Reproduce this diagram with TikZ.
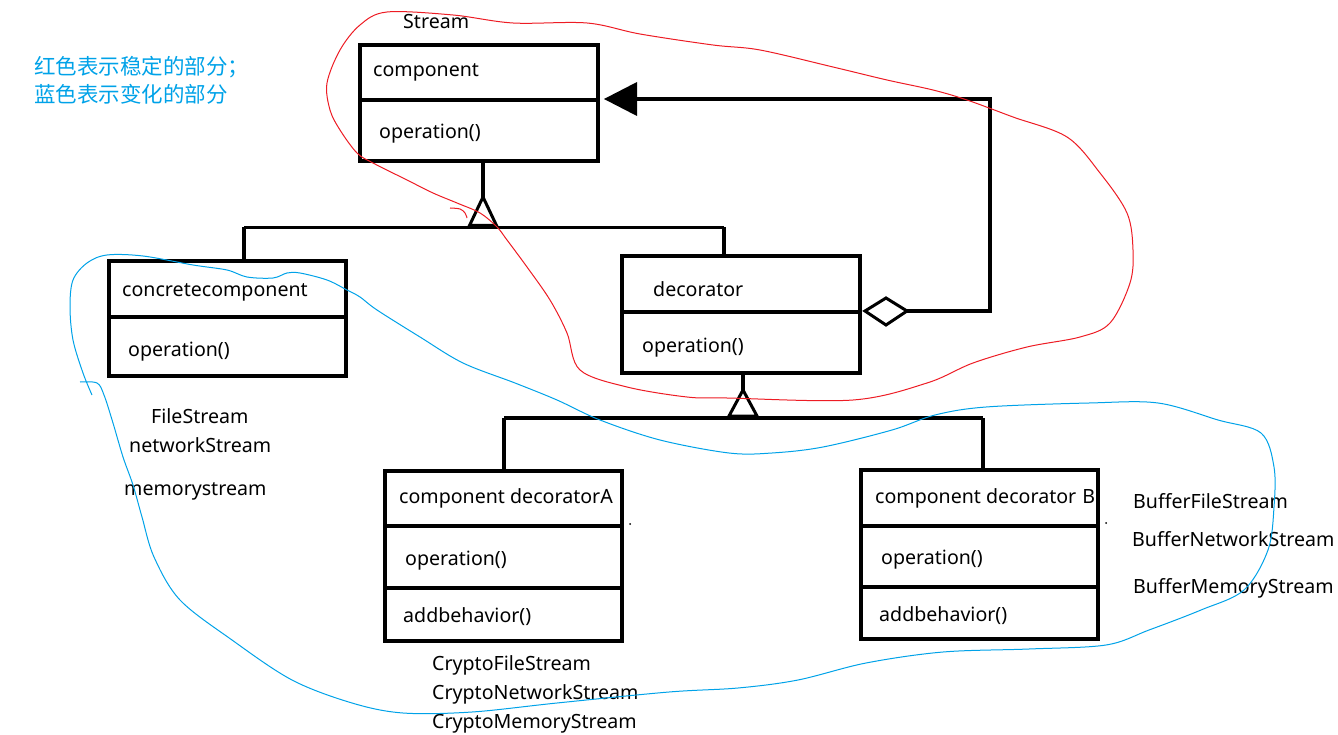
\documentclass[tikz,border=0pt]{standalone}
\usepackage{fontspec}
\setmainfont{Noto Sans}
\newfontfamily\cjk{Noto Sans CJK SC}
\definecolor{pred}{HTML}{ED1C24}
\definecolor{pblue}{HTML}{00A2E8}
\begin{document}
\begin{tikzpicture}[x=1pt,y=-1pt,
  box/.style={draw, line width=4pt, inner sep=0pt, outer sep=0pt},
  divl/.style={line width=4pt},
  conn/.style={line width=3.5pt},
  tri/.style={line width=3pt, line join=miter, fill=white},
  lbl/.style={anchor=base west, inner sep=0pt, font=\fontsize{19.6}{24}\selectfont},
  note/.style={anchor=base west, inner sep=0pt, text=pblue, font=\cjk\fontsize{21.5}{26}\selectfont},
  redline/.style={draw=pred, line width=1pt},
  blueline/.style={draw=pblue, line width=1pt}]
\useasboundingbox (0,0) rectangle (1338,735);

% ---------- boxes ----------
\node[box, minimum width=238pt, minimum height=116.5pt] (comp) at (479,103.25) {};
\node[box, minimum width=237pt, minimum height=114.5pt] (conc) at (227.5,318.75) {};
\node[box, minimum width=238pt, minimum height=117pt] (dec) at (741,314.5) {};
\node[box, minimum width=237.5pt, minimum height=170pt] (decA) at (503.25,556) {};
\node[box, minimum width=237.5pt, minimum height=169.5pt] (decB) at (979.25,554.25) {};

\draw[divl] (comp.west |- 0,100) -- (comp.east |- 0,100);
\draw[divl] (conc.west |- 0,316.5) -- (conc.east |- 0,316.5);
\draw[divl] (dec.west |- 0,312) -- (dec.east |- 0,312);
\draw[divl] (decA.west |- 0,525.5) -- (decA.east |- 0,525.5);
\draw[divl] (decA.west |- 0,587.5) -- (decA.east |- 0,587.5);
\draw[divl] (decB.west |- 0,525.5) -- (decB.east |- 0,525.5);
\draw[divl] (decB.west |- 0,587) -- (decB.east |- 0,587);

% ---------- texts ----------
\node[lbl] (tStream) at (403,29) {Stream};
\node[lbl] (tcomp) at (373,77) {component};
\node[lbl] (tcompop) at (379,139) {operation()};
\node[lbl] (tconc) at (122,297) {concretecomponent};
\node[lbl] (tconcop) at (128,356) {operation()};
\node[lbl] (tdec) at (653,297) {decorator};
\node[lbl] (tdecop) at (642,352) {operation()};
\node[lbl] (tA) at (399,503) {component decoratorA};
\node[lbl] (tAop) at (405,565) {operation()};
\node[lbl] (tAadd) at (403,622) {addbehavior()};
\begin{scope}
  \clip (decB.north west) rectangle (1096,600);
  \node[lbl] (tB) at (875,503) {component decorator\hspace{1pt} B};
\end{scope}
\node[lbl] (tBop) at (881,564) {operation()};
\node[lbl] (tBadd) at (879,621) {addbehavior()};

\node[lbl] (s1) at (151,423) {FileStream};
\node[lbl] (s2) at (129,452) {networkStream};
\node[lbl] (s3) at (124,495) {memorystream};
\node[lbl] (c1) at (432,670) {CryptoFileStream};
\node[lbl] (c2) at (432,699) {CryptoNetworkStream};
\node[lbl] (c3) at (432,728) {CryptoMemoryStream};
\node[lbl] (b1) at (1133,508) {BufferFileStream};
\node[lbl] (b2) at (1132,546) {BufferNetworkStream};
\node[lbl] (b3) at (1133,593) {BufferMemoryStream};

\node[note] (n1) at (34,75) {红色表示稳定的部分；};
\node[note] (n2) at (34,103) {蓝色表示变化的部分};

% ---------- inheritance component ----------
\coordinate (t1) at (483,197);
\coordinate (b1L) at (244,227.5);
\coordinate (b1R) at (724,227.5);
\draw[conn] (comp.south -| t1) -- (t1);
\draw[conn] (b1L) -- (b1R);
\draw[conn] (b1L) -- (b1L |- conc.north);
\draw[conn] (b1R) -- (b1R |- dec.north);
\draw[tri] (t1) -- (469.5,225.5) -- (496.5,225.5) -- cycle;

% ---------- inheritance decorator ----------
\coordinate (t2) at (743,390);
\coordinate (b2L) at (504,418);
\coordinate (b2R) at (983,418);
\draw[conn] (dec.south -| t2) -- (t2);
\draw[conn] (b2L) -- (b2R);
\draw[conn] (b2L) -- (b2L |- decA.north);
\draw[conn] (b2R) -- (b2R |- decB.north);
\draw[tri] (t2) -- (729,416) -- (757,416) -- cycle;

% ---------- aggregation ----------
\coordinate (dL) at (865,311);
\coordinate (dR) at (907,311);
\coordinate (k1) at (990,311);
\coordinate (k2) at (990,99);
\coordinate (aB) at (637,99);
\coordinate (aT) at (604,99);
\draw[conn] (dR) -- (k1) -- (k2) -- (aB);
\draw[tri] (dL) -- (886,298) -- (dR) -- (886,325) -- cycle;
\fill (aT) -- (637,82) -- (637,116) -- cycle;

% tiny marks
\fill (630,524) circle (1pt);
\fill (1106,523) circle (1pt);

% ---------- red loop ----------
\draw[redline] plot[smooth cycle, tension=0.55] coordinates {
 (387,12) (453,15) (513,23) (587,23) (640,34) (713,45) (760,50) (833,67) (887,80)
 (933,90) (967,100) (1013,117) (1067,137) (1100,173) (1127,213) (1133,250)
 (1130,283) (1110,323) (1080,337) (1027,347) (973,363) (927,383) (853,400)
 (727,398) (687,397) (627,387) (580,370) (567,333) (550,300) (527,267)
 (507,240) (497,227) (480,213) (457,203) (433,193) (407,180) (373,163)
 (357,153) (340,130) (330,110) (327,83) (340,50) (360,25)};
\draw[redline] plot[smooth, tension=0.6] coordinates {(450,208) (460,209) (465,213) (467,218)};

% ---------- blue loop ----------
\draw[blueline] plot[smooth, tension=0.55] coordinates {
 (80,382) (97,383) (104,395) (113,423) (123,457) (133,485) (142,517) (154,557)
 (180,600) (232,640) (292,680) (352,703) (403,713) (472,712) (557,703)
 (669,692) (738,688) (798,680) (866,663) (943,652) (1029,649) (1106,645)
 (1149,630) (1201,610) (1244,590) (1268,550) (1274,507) (1274,467) (1261,433)
 (1218,420) (1158,403) (1089,403) (986,407) (935,415) (892,430) (823,447)
 (772,453) (729,453) (660,440) (600,420) (557,400) (515,383) (463,363)
 (420,337) (377,310) (360,297) (347,290) (327,280) (300,273) (287,273)
 (273,278) (247,277) (227,270) (193,265) (143,256) (107,255) (87,263)
 (73,280) (70,307) (73,340) (83,373) (92,395)};
\end{tikzpicture}
\end{document}
